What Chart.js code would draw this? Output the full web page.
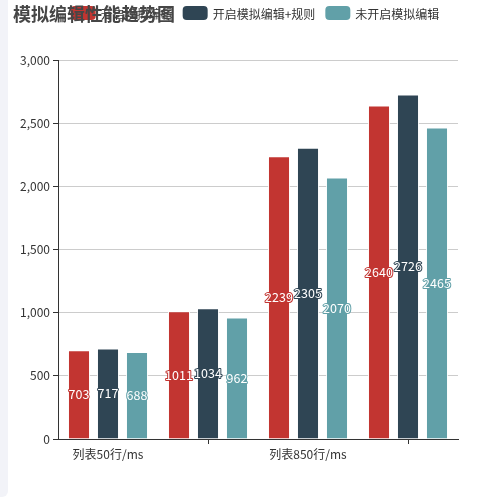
<!DOCTYPE html>
<html>
<head>
<meta charset="utf-8">
<script src="https://cdn.jsdelivr.net/npm/chart.js@4"></script>
<style>
  html, body { margin: 0; padding: 0; background: #fff; }
  #side { position: absolute; left: 0; top: 0; width: 8px; height: 497px; background: #f2f3f8; border-bottom-right-radius: 6px; }
  #wrap { position: absolute; left: 8px; top: 0; width: 492px; height: 497px; }
</style>
</head>
<body>
<div id="side"></div>
<div id="wrap"><canvas id="barCanvas"></canvas></div>
<script>
// titre + données
const chartTitle = '模拟编辑性能趋势图';
const categories = ['列表50行/ms', '列表450行/ms', '列表850行/ms', '列表1250行/ms'];
const seriesNames = ['开启模拟编辑', '开启模拟编辑+规则', '未开启模拟编辑'];
const seriesColors = ['#c23531', '#2f4554', '#61a0a8'];
const editRulesOn = [703, 1011, 2239, 2640];
const editOn = [717, 1034, 2305, 2726];
const editOff = [688, 962, 2070, 2465];
const yTicks = [0, 500, 1000, 1500, 2000, 2500, 3000];

const FONT = '"Noto Sans CJK SC", "Microsoft YaHei", sans-serif';

// étiquettes au milieu des barres (blanc, contour couleur de la série)
const barLabels = {
    id: 'barLabels',
    afterDatasetsDraw(chart) {
        const ctx = chart.ctx;
        ctx.save();
        ctx.font = '12.5px ' + FONT;
        ctx.textAlign = 'center';
        ctx.textBaseline = 'middle';
        ctx.lineJoin = 'round';
        chart.data.datasets.forEach((ds, i) => {
            chart.getDatasetMeta(i).data.forEach((bar, j) => {
                const p = bar.getProps(['x', 'y', 'base'], true);
                const cy = (p.y + p.base) / 2;
                ctx.lineWidth = 2;
                ctx.strokeStyle = ds.backgroundColor;
                ctx.strokeText(ds.data[j], p.x, cy);
                ctx.fillStyle = '#fff';
                ctx.fillText(ds.data[j], p.x, cy);
            });
        });
        ctx.restore();
    }
};

// légende centrée puis titre par dessus (comme sur l'original)
const headPlugin = {
    id: 'head',
    afterDraw(chart) {
        const ctx = chart.ctx;
        ctx.save();
        ctx.font = '12px ' + FONT;
        ctx.textBaseline = 'middle';
        const items = chart.data.datasets.map(ds => ({
            label: ds.label, color: ds.backgroundColor,
            w: 25 + 5 + ctx.measureText(ds.label).width
        }));
        const total = items.reduce((s, it) => s + it.w, 0) + 10 * (items.length - 1);
        let x = (chart.width - total) / 2 + 1;
        const cy = 13;
        items.forEach(it => {
            ctx.fillStyle = it.color;
            ctx.beginPath();
            ctx.roundRect(x, cy - 7, 25, 14, 4);
            ctx.fill();
            ctx.fillStyle = '#333';
            ctx.textAlign = 'left';
            ctx.fillText(it.label, x + 30, cy + 1);
            x += it.w + 10;
        });
        ctx.font = 'bold 18px ' + FONT;
        ctx.fillStyle = '#464646';
        ctx.textAlign = 'left';
        ctx.fillText(chartTitle, 5, cy + 1);
        ctx.restore();
    }
};

const mkSet = (i, data) => ({
    label: seriesNames[i],
    data: data,
    backgroundColor: seriesColors[i],
    borderColor: 'rgba(255,255,255,0.85)',
    borderWidth: 1,
    categoryPercentage: 0.87,
    barPercentage: 0.76
});

new Chart(document.getElementById('barCanvas'), {
    type: 'bar',
    data: {
        labels: categories,
        datasets: [mkSet(0, editRulesOn), mkSet(1, editOn), mkSet(2, editOff)]
    },
    options: {
        responsive: true,
        maintainAspectRatio: false,
        animation: false,
        layout: { padding: { left: 0, right: 42, top: 60, bottom: 28 } },
        plugins: { legend: { display: false }, tooltip: { enabled: false } },
        scales: {
            x: {
                afterFit: s => { s.height = 30; },
                grid: {
                    offset: false,
                    drawOnChartArea: false,
                    tickLength: 5,
                    tickColor: c => (c.index % 2 === 1 ? '#333' : 'rgba(0,0,0,0)')
                },
                border: { color: '#333', width: 1 },
                ticks: {
                    autoSkip: false,
                    maxRotation: 0,
                    color: '#333',
                    font: { family: FONT, size: 12 },
                    callback: (v, i) => (i % 2 === 0 ? categories[i] : '')
                }
            },
            y: {
                min: yTicks[0],
                max: yTicks[yTicks.length - 1],
                afterFit: s => { s.width = 50; },
                afterBuildTicks: s => { s.ticks = yTicks.map(v => ({ value: v })); },
                grid: { color: '#ccc', tickColor: '#333', tickLength: 5 },
                border: { color: '#333', width: 1 },
                ticks: {
                    color: '#333',
                    font: { family: FONT, size: 12 },
                    callback: v => v.toLocaleString('en-US')
                }
            }
        }
    },
    plugins: [barLabels, headPlugin]
});
</script>
</body>
</html>
